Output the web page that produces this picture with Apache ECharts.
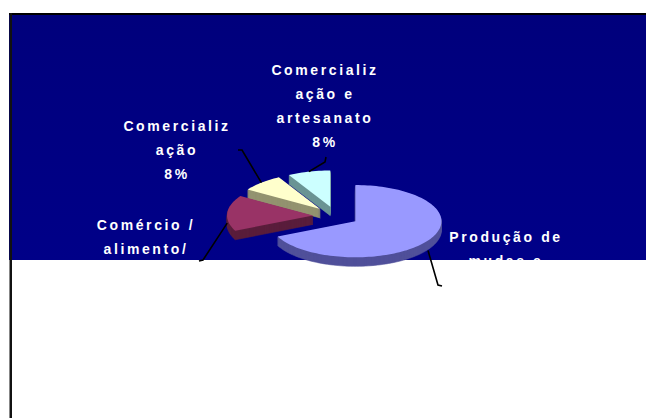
<!DOCTYPE html>
<html>
<head>
<meta charset="utf-8">
<script src="https://cdn.jsdelivr.net/npm/echarts@6/dist/echarts.min.js"></script>
<style>
  html, body { margin: 0; padding: 0; background: #ffffff; }
  #chart { width: 646px; height: 418px; }
  /* wide tracking on all chart labels */
  #chart text { letter-spacing: 2.6px; }
</style>
</head>
<body>
<div id="chart"></div>
<script>
// Slice data (clockwise from 12 o'clock)
const categories = ['Produção de mudas', 'Comércio / alimento', 'Comercialização', 'Comercialização e artesanato'];
const shares = [68, 16, 8, 8];
const labelLines = [
  ['Produção de', 'mudas e'],
  ['Comércio /', 'alimento/'],
  ['Comercializ', 'ação'],
  ['Comercializ', 'ação e', 'artesanato']
];
const showPercent = [false, false, true, true];

// Styling
const topColors = ['#9999FF', '#993366', '#FFFFCC', '#CCFFFF'];
const sideColors = ['#50509A', '#5A1E3C', '#939370', '#6A9494'];

// 3D pie geometry
const PIE = { cx: 336, cy: 216, r: 86, tilt: 0.42, explode: 23, depth: 9 };

// Label placement: centre x / first-line centre y, plus leader elbow points
const labelLayout = [
  { x: 506, y: 237, leader: [[438, 285], [442, 286]] },
  { x: 146, y: 225, leader: [[203, 260], [199, 261]] },
  { x: 177, y: 126, leader: [[242, 150], [238, 150]] },
  { x: 325, y: 70,  leader: [[325, 162], [326, 157]] }
];
const LINE_H = 24;

const total = shares.reduce((a, b) => a + b, 0);
const cumulative = shares.map((_, i) => shares.slice(0, i).reduce((a, b) => a + b, 0));
const midAngles = shares.map((v, i) => (cumulative[i] + v / 2) / total * Math.PI * 2);
// draw order: back slices first, front slices last
const drawRank = midAngles
  .map((a, i) => ({ i, f: -Math.cos(a) }))
  .sort((p, q) => p.f - q.f)
  .reduce((acc, p, k) => { acc[p.i] = k; return acc; }, {});

function slicePolygon(a0, a1, ox, oy, dy) {
  const pts = [[PIE.cx + ox, PIE.cy + oy * PIE.tilt + dy]];
  const steps = Math.max(8, Math.ceil((a1 - a0) / (Math.PI / 90)));
  for (let s = 0; s <= steps; s++) {
    const a = a0 + (a1 - a0) * s / steps;
    pts.push([
      PIE.cx + ox + PIE.r * Math.sin(a),
      PIE.cy + (oy - PIE.r * Math.cos(a)) * PIE.tilt + dy
    ]);
  }
  return pts;
}

function renderSlice(params, api) {
  const i = params.dataIndex;
  const v = api.value(0);
  const a0 = cumulative[i] / total * Math.PI * 2;
  const a1 = (cumulative[i] + v) / total * Math.PI * 2;
  const mid = (a0 + a1) / 2;
  const ox = Math.sin(mid) * PIE.explode;
  const oy = -Math.cos(mid) * PIE.explode;
  const base = drawRank[i] * 100;
  const children = [];

  // extruded wall: stacked layers from the bottom up
  for (let d = PIE.depth; d >= 1; d--) {
    children.push({
      type: 'polygon',
      z2: base + (PIE.depth - d),
      shape: { points: slicePolygon(a0, a1, ox, oy, d) },
      style: { fill: sideColors[i], stroke: sideColors[i], lineWidth: 0.6 }
    });
  }
  // top face
  children.push({
    type: 'polygon',
    z2: base + PIE.depth + 1,
    shape: { points: slicePolygon(a0, a1, ox, oy, 0) },
    style: { fill: topColors[i] }
  });

  // leader line from the rim at the slice's mid angle
  const rimX = PIE.cx + ox + PIE.r * Math.sin(mid);
  const frontFacing = -Math.cos(mid) > -0.2;
  const rimY = PIE.cy + (oy - PIE.r * Math.cos(mid)) * PIE.tilt + (frontFacing ? PIE.depth + 1 : 0);
  const lay = labelLayout[i];
  children.push({
    type: 'polyline',
    z2: 1000,
    shape: { points: [[rimX, rimY]].concat(lay.leader) },
    style: { stroke: '#000000', lineWidth: 1.6, fill: null }
  });

  // label text
  const lines = labelLines[i].slice();
  if (showPercent[i]) lines.push(Math.round(v / total * 100) + '%');
  children.push({
    type: 'text',
    z2: 1001,
    style: {
      text: lines.join('\n'),
      x: lay.x,
      y: lay.y - LINE_H / 2,
      fill: '#ffffff',
      font: 'bold 14px "Liberation Sans", Arial, sans-serif',
      align: 'center',
      verticalAlign: 'top',
      lineHeight: LINE_H
    }
  });

  return { type: 'group', children };
}

const chart = echarts.init(document.getElementById('chart'), null, { renderer: 'svg' });
chart.setOption({
  animation: false,
  backgroundColor: '#ffffff',
  graphic: [
    {
      type: 'rect', z: 0, silent: true,
      shape: { x: 9, y: 13, width: 637, height: 247 },
      style: {
        fill: {
          type: 'linear', x: 0, y: 0, x2: 0, y2: 1,
          colorStops: [{ offset: 0, color: '#00007C' }, { offset: 1, color: '#000088' }]
        }
      }
    },
    { type: 'rect', z: 1, silent: true, shape: { x: 9, y: 13, width: 637, height: 2 }, style: { fill: '#000000' } },
    { type: 'rect', z: 1, silent: true, shape: { x: 9.5, y: 13, width: 2.5, height: 405 }, style: { fill: '#111111' } }
  ],
  series: [{
    type: 'custom',
    name: 'Participação',
    coordinateSystem: 'none',
    silent: true,
    z: 5,
    data: shares.map((v, i) => ({ name: categories[i], value: [v] })),
    renderItem: renderSlice
  }]
});
</script>
</body>
</html>
